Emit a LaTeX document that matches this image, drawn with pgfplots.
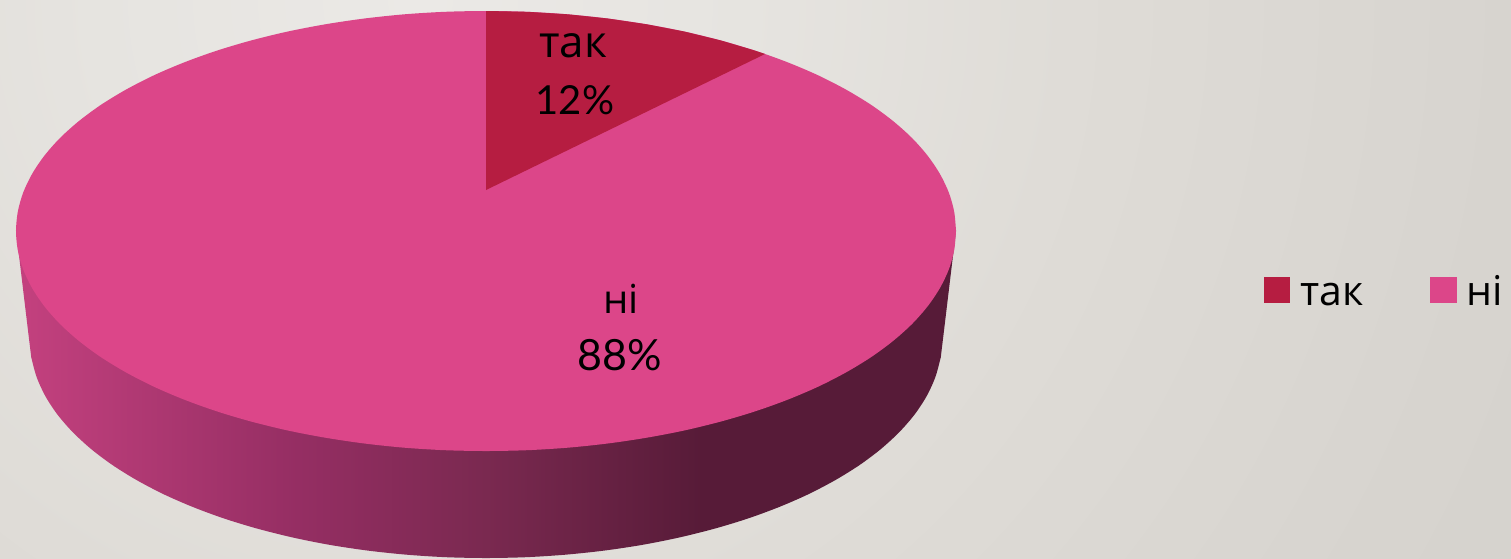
\documentclass[border=0pt]{standalone}
\usepackage{fontspec}
\setmainfont{Open Sans}
\newfontfamily\numfont{Lato}
\usepackage{pgfplots}
\pgfplotsset{compat=1.18}
\definecolor{tak}{HTML}{B61D41}
\definecolor{ni}{HTML}{DC4689}
\definecolor{bgA}{HTML}{EBE9E6}
\definecolor{bgB}{HTML}{E6E4E0}
\definecolor{bgC}{HTML}{DFDCD7}
\definecolor{bgD}{HTML}{D7D4CF}
\definecolor{bgE}{HTML}{D5D2CD}
\definecolor{c1}{HTML}{C4417F}
\definecolor{c2}{HTML}{952E63}
\definecolor{c3}{HTML}{7A2950}
\definecolor{c4}{HTML}{571B38}
\pgfdeclareradialshading{bgrad}{\pgfpoint{0bp}{0bp}}{%
  color(0bp)=(bgA); color(6.25bp)=(bgB); color(12.5bp)=(bgC); color(21bp)=(bgD); color(25bp)=(bgE); color(50bp)=(bgE)}
\pgfdeclarehorizontalshading{sideshade}{100bp}{%
  color(0bp)=(c1); color(25bp)=(c1); color(40bp)=(c2); color(50bp)=(c3); color(61.5bp)=(c4); color(75bp)=(c4); color(100bp)=(c4)}
\begin{document}
\begin{tikzpicture}[x=1pt,y=1pt]
\begin{scope}
\clip (0,0) rectangle (1511,558);
\shade[shading=bgrad] (420,558) circle [radius=1300];
\end{scope}
\begin{axis}[
  at={(0,0)}, anchor=south west,
  width=1511pt, height=558pt, scale only axis,
  xmin=0, xmax=1511, ymin=0, ymax=558, y dir=reverse,
  axis lines=none, clip=true,
  legend columns=2,
  legend style={draw=none, fill=none, at={(1264pt,-290pt)}, anchor=west, inner sep=0pt, outer sep=0pt,
    nodes={inner sep=0pt, font=\fontsize{41}{48}\selectfont, text height=31pt, text depth=0pt},
    /tikz/every even column/.append style={column sep=66pt}},
  legend cell align=left,
]
% side wall
\addplot[draw=none, smooth, shading=sideshade, forget plot] coordinates {
(16,231)(17.5,243)(30,347)(31.7,359)(36.9,377.8)(45.5,396.4)(57.5,414.6)(72.7,432.1)(91.1,449)(112.4,465)(136.7,480.1)(163.6,494.2)(192.9,507)(224.4,518.6)(258,528.8)(293.3,537.6)(330,544.9)(368,550.6)(406.8,554.7)(446.2,557.2)(486,558)(525.8,557.2)(565.2,554.7)(604,550.6)(642,544.9)(678.7,537.6)(714,528.8)(747.6,518.6)(779.1,507)(808.4,494.2)(835.3,480.1)(859.6,465)(880.9,449)(899.3,432.1)(914.5,414.6)(926.5,396.4)(935.1,377.8)(940.3,359)(942,347)(954.5,243)(956,231)
} -- cycle;
% ni slice (whole top, the tak slice lies on it)
\addplot[draw=none, smooth, fill=ni, forget plot] coordinates {
(956,231)(954.2,250.2)(948.9,269.2)(940,287.9)(927.7,306.2)(912,324)(893,341)(871,357.2)(846,372.4)(818.3,386.6)(788.1,399.5)(755.6,411.2)(721,421.5)(684.6,430.4)(646.7,437.7)(607.6,443.5)(567.6,447.7)(527,450.2)(486,451)
(445,450.2)(404.4,447.7)(364.4,443.5)(325.3,437.7)(287.4,430.4)(251,421.5)(216.4,411.2)(183.9,399.5)(153.7,386.6)(126,372.4)(101,357.2)(79,341)(60,324)(44.3,306.2)(32,287.9)(23.1,269.2)(17.8,250.2)(16,231)
(17.8,211.8)(23.1,192.8)(32,174.1)(44.3,155.8)(60,138)(79,121)(101,104.8)(126,89.6)(153.7,75.4)(183.9,62.5)(216.4,50.8)(251,40.5)(287.4,31.6)(325.3,24.3)(364.4,18.5)(404.4,14.3)(445,11.8)(486,11)
(527,11.8)(567.6,14.3)(607.6,18.5)(646.7,24.3)(684.6,31.6)(721,40.5)(755.6,50.8)(788.1,62.5)(818.3,75.4)(846,89.6)(871,104.8)(893,121)(912,138)(927.7,155.8)(940,174.1)(948.9,192.8)(954.2,211.8)(956,231)
} -- cycle;
% tak slice
\addplot[draw=none, fill=tak, forget plot] coordinates {
(486,190)(486,11)(527,11.8)(567.6,14.3)(607.6,18.5)(646.7,24.3)(684.6,31.6)(721,40.5)(755.6,50.8)(765,54)
} -- cycle;
\addlegendimage{legend image code/.code={\fill[tak] (0pt,-12.5pt) rectangle (25pt,12.5pt);\path (36pt,0pt);}}
\addlegendentry{так}
\addlegendimage{legend image code/.code={\fill[ni] (0pt,-12.5pt) rectangle (26pt,12.5pt);\path (36pt,0pt);}}
\addlegendentry{ні}
\node[font=\fontsize{44}{50}\selectfont] at (axis cs:573,46) {так};
\node[font=\numfont\fontsize{40}{50}\selectfont] at (axis cs:575,100) {12\%};
\node[font=\fontsize{40}{50}\selectfont] at (axis cs:621,299) {ні};
\node[font=\numfont\fontsize{43}{50}\selectfont] at (axis cs:620,355) {88\%};
\end{axis}
\end{tikzpicture}
\end{document}
